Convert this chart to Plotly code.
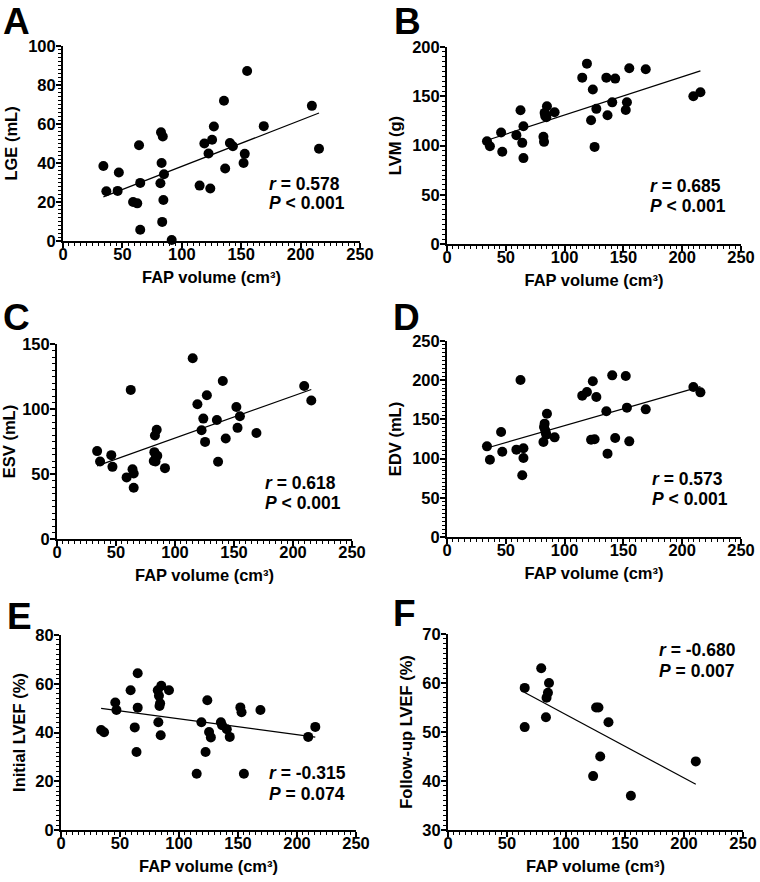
import numpy as np
import plotly.graph_objects as go

# ---------------- data ----------------
fap = [34, 36.5, 46, 47, 59, 62.5, 64, 65, 65,
       82, 82.5, 83, 83.5, 84, 84.5, 85,
       91.5, 115, 119, 122.5, 124, 125.5, 127, 135.5, 136.5, 140.5, 143,
       152, 153, 155, 169, 209.5, 215.5]

lge = [38.5, 25.5, 25.7, 35.1, 20, 19.3, 49.1, 29.8, 5.8,
       29.6, 55.8, 40, 9.8, 53.6, 21, 34.2,
       0.5, 28.4, 50, 44.9, 26.9, 51.9, 58.7, 71.9, 37.2, 50.3, 48.6,
       40, 44.7, 87.2, 58.9, 69.3, 47.3]

lvm = [104.4, 99.3, 113.2, 93.6, 110.5, 135.8, 102.7, 119.6, 87.2,
       108.8, 103.7, 133.1, 130, 131.5, 128.7, 139.9,
       133.8, 168.9, 183.1, 125.7, 156.8, 98.6, 137.2, 168.9, 130.7, 143.8, 167.9,
       136.1, 143.9, 178.4, 177.4, 150, 154.1]

esv = [67.6, 59.6, 64.5, 55.5, 47.4, 114.7, 53.7, 50.4, 39.4,
       60, 66.8, 79.6, 59.6, 63.5, 84, 64,
       54.5, 139, 103.6, 83.7, 92.6, 74.7, 110.6, 91.6, 59.4, 121.6, 77.3,
       101.5, 85.5, 94.4, 81.6, 117.7, 106.5]

edv = [115.6, 98.6, 133.9, 108.8, 111.4, 200.3, 78.7, 113.1, 100.8,
       121.2, 140.3, 144.6, 136, 133, 130.5, 157.3,
       127.1, 180.3, 184.9, 124.1, 198.6, 124.6, 178.6, 160.3, 106.3, 206.2, 126.3,
       205.4, 165, 122, 162.8, 191.3, 184.5]

lvef_init = [41, 40.1, 52.3, 49.2, 57.3, 42.1, 32, 64.3, 50.2,
             57.3, 44.2, 55.1, 50.9, 52, 38.9, 59.2,
             57.3, 23.1, 44.2, 32, 53.2, 40.2, 38, 44.2, 43, 41.3, 38.2,
             50.3, 48.3, 23.1, 49.2, 38.2, 42.3]

fap_fu = [65, 65, 79, 83, 83.5, 84.7, 85.6, 123, 125.5, 127.5, 129, 136, 155, 210]
lvef_fu = [59, 51, 63, 53, 57, 58, 60, 41, 55, 55, 45, 52, 37, 44]

x_ticks = [0, 50, 100, 150, 200, 250]
x_title = "FAP volume (cm³)"

panels = [
    dict(letter="A", x=fap, y=lge, ytitle="LGE (mL)", yrange=[0, 100], ydtick=20, yminor=2,
         r="0.578", p="<b><i>P</i> &lt; 0.001</b>"),
    dict(letter="B", x=fap, y=lvm, ytitle="LVM (g)", yrange=[0, 200], ydtick=50, yminor=5,
         r="0.685", p="<b><i>P</i> &lt; 0.001</b>"),
    dict(letter="C", x=fap, y=esv, ytitle="ESV (mL)", yrange=[0, 150], ydtick=50, yminor=5,
         r="0.618", p="<b><i>P</i> &lt; 0.001</b>"),
    dict(letter="D", x=fap, y=edv, ytitle="EDV (mL)", yrange=[0, 250], ydtick=50, yminor=5,
         r="0.573", p="<b><i>P</i> &lt; 0.001</b>"),
    dict(letter="E", x=fap, y=lvef_init, ytitle="Initial LVEF (%)", yrange=[0, 80], ydtick=20, yminor=2,
         r="-0.315", p="<b><i>P</i> = 0.074</b>"),
    dict(letter="F", x=fap_fu, y=lvef_fu, ytitle="Follow-up LVEF (%)", yrange=[30, 70], ydtick=10, yminor=1,
         r="-0.680", p="<b><i>P</i> = 0.007</b>"),
]

# ---------------- layout geometry (pixels) ----------------
W, H = 760, 882
# plot-area boxes: left, right, top, bottom
boxes = [
    (63, 360, 46, 241),
    (447, 741, 47, 244),
    (57, 352, 344, 539),
    (447, 741, 341, 537),
    (61, 356, 635, 830),
    (448, 743, 634, 830),
]
letter_pos = [(1, 22), (392, 22), (1, 318), (391, 318), (5, 616), (391, 613)]
stat_pos = [(267, 184, 203), (648, 186, 206), (263, 483, 503), (650, 479, 499),
            (267, 773, 794), (657, 650, 671)]

FONT = "Arial, Liberation Sans, Helvetica, sans-serif"

fig = go.Figure()
annotations = []
layout_axes = {}

for i, (pn, box) in enumerate(zip(panels, boxes)):
    k = "" if i == 0 else str(i + 1)
    xa, ya = "x" + k, "y" + k
    L, R, T, B = box
    xs = np.array(pn["x"], dtype=float)
    ys = np.array(pn["y"], dtype=float)
    fig.add_trace(go.Scatter(x=xs, y=ys, xaxis=xa, yaxis=ya, mode="markers",
                             marker=dict(color="black", size=10), cliponaxis=False,
                             showlegend=False, hoverinfo="x+y"))
    m, c = np.polyfit(xs, ys, 1)
    lx = np.array([xs.min(), xs.max()])
    fig.add_trace(go.Scatter(x=lx, y=m * lx + c, xaxis=xa, yaxis=ya, mode="lines",
                             line=dict(color="black", width=1.2), showlegend=False,
                             hoverinfo="skip"))
    common = dict(showgrid=False, zeroline=False, showline=True, linecolor="black",
                  linewidth=2, ticks="outside", ticklen=5, tickwidth=1.5, tickcolor="black",
                  tickfont=dict(family=FONT, size=16.5, color="black", weight="bold"),
                  automargin=False)
    layout_axes["xaxis" + k] = dict(
        common, domain=[L / W, R / W], anchor=ya, range=[0, 250],
        tickvals=x_ticks, ticktext=[str(v) for v in x_ticks], ticklabelstandoff=-8,
        minor=dict(dtick=5, ticks="outside", ticklen=3, tickwidth=1, tickcolor="black"),
        title=dict(text=x_title, standoff=10,
                   font=dict(family=FONT, size=16.5, color="black", weight="bold")))
    yt = list(range(pn["yrange"][0], pn["yrange"][1] + 1, pn["ydtick"]))
    layout_axes["yaxis" + k] = dict(
        common, domain=[1 - B / H, 1 - T / H], anchor=xa, range=pn["yrange"],
        tickvals=yt, ticktext=[str(v) for v in yt], ticklabelstandoff=-3,
        minor=dict(dtick=pn["yminor"], ticks="outside", ticklen=3, tickwidth=1, tickcolor="black"),
        title=dict(text=pn["ytitle"], standoff=6,
                   font=dict(family=FONT, size=16.5, color="black", weight="bold")))
    lx0, ly0 = letter_pos[i]
    annotations.append(dict(text="<b>%s</b>" % pn["letter"], x=lx0 / W, y=1 - ly0 / H,
                            xref="paper", yref="paper", xanchor="left", yanchor="middle",
                            showarrow=False, font=dict(family=FONT, size=37, color="black")))
    sx, sy1, sy2 = stat_pos[i]
    annotations.append(dict(text="<b><i>r</i> = %s</b>" % pn["r"], x=sx / W, y=1 - sy1 / H,
                            xref="paper", yref="paper", xanchor="left", yanchor="middle",
                            showarrow=False, font=dict(family=FONT, size=17.5, color="black")))
    annotations.append(dict(text=pn["p"], x=sx / W, y=1 - sy2 / H,
                            xref="paper", yref="paper", xanchor="left", yanchor="middle",
                            showarrow=False, font=dict(family=FONT, size=17.5, color="black")))

fig.update_layout(width=W, height=H, margin=dict(l=0, r=0, t=0, b=0),
                  paper_bgcolor="white", plot_bgcolor="white",
                  font=dict(family=FONT, color="black"),
                  annotations=annotations, **layout_axes)

fig.write_html("out.html", config={"displayModeBar": False},
               post_script="document.body.style.margin='0';document.body.style.overflow='hidden';")
